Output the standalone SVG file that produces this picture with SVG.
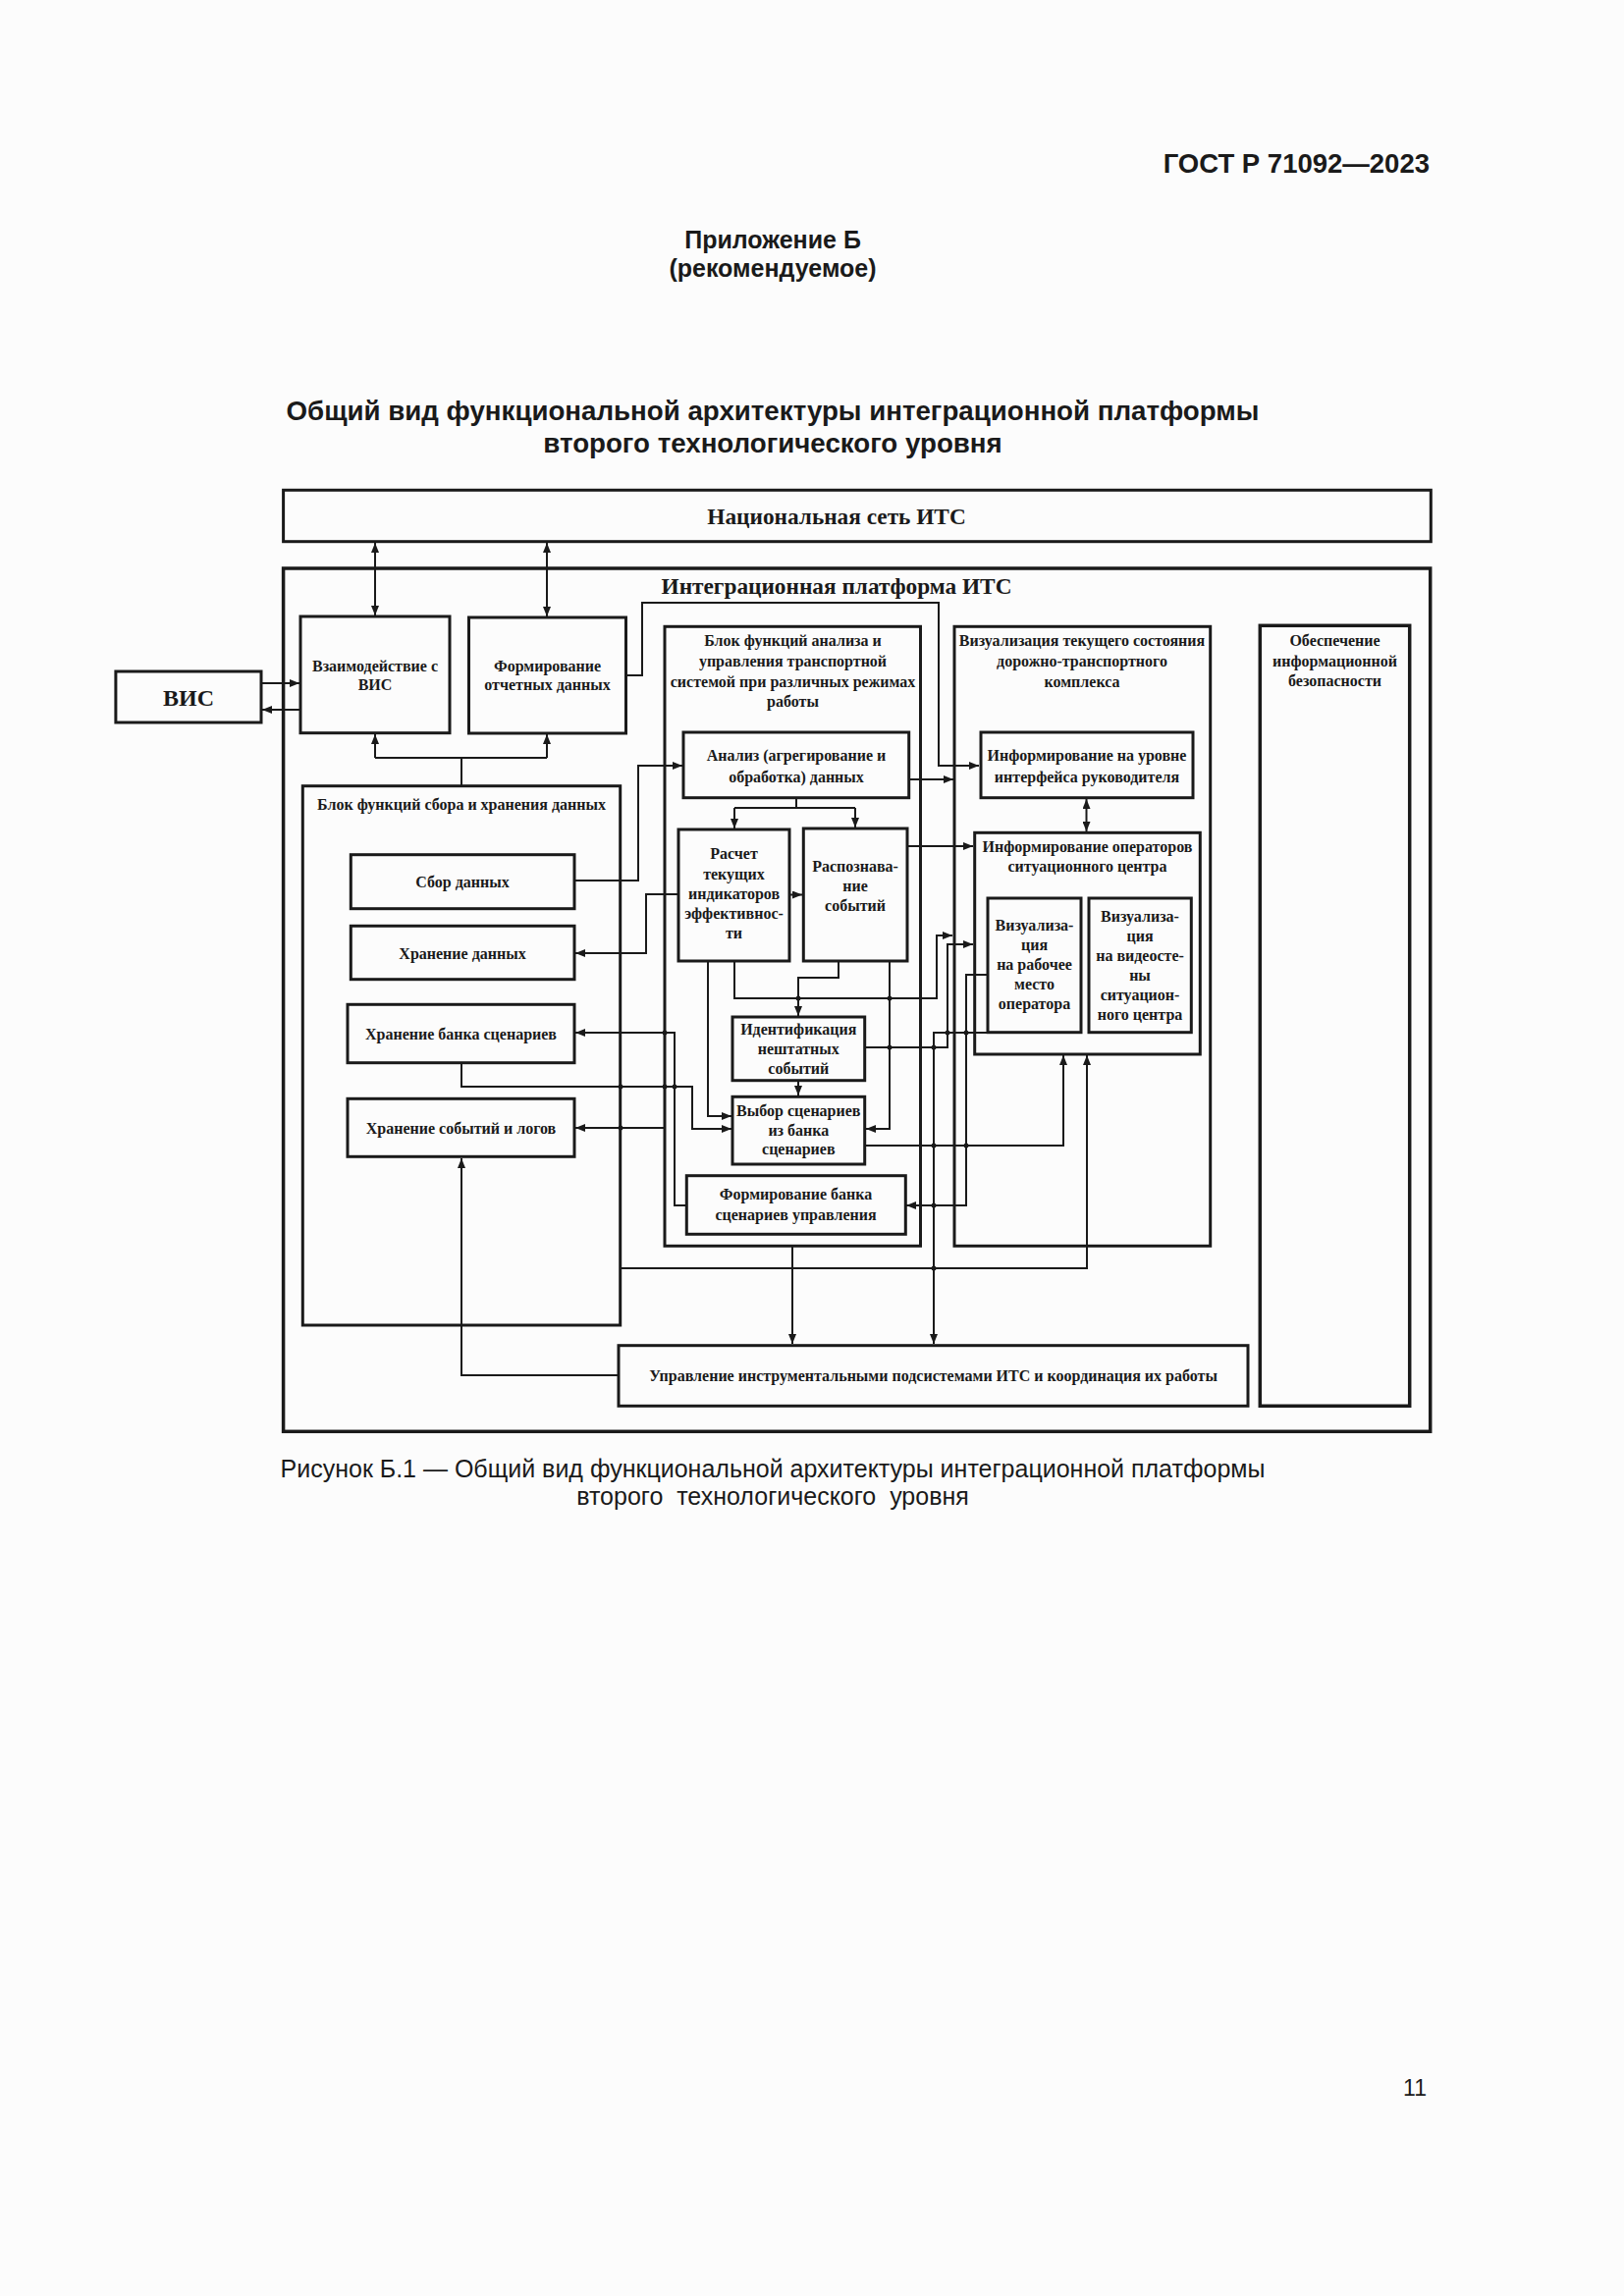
<svg xmlns="http://www.w3.org/2000/svg" width="1654" height="2339" viewBox="0 0 1654 2339">
<defs>
<style>
.box{fill:none;stroke:#1a1a1a;stroke-width:3}
.cont{fill:none;stroke:#1a1a1a;stroke-width:3.5}
.ln{fill:none;stroke:#1a1a1a;stroke-width:2}
.t{font-family:"Liberation Serif","Times New Roman",serif;font-weight:bold;font-size:16px;text-anchor:middle;fill:#1a1a1a}
.big{font-family:"Liberation Serif","Times New Roman",serif;font-weight:bold;font-size:23.3px;text-anchor:middle;fill:#1a1a1a}
.hd{font-family:"Liberation Sans",Arial,sans-serif;fill:#1a1a1a}
.dot{fill:#1a1a1a}
</style>
<marker id="ah" viewBox="0 0 10 8" refX="10" refY="4" markerWidth="10" markerHeight="8" markerUnits="userSpaceOnUse" orient="auto-start-reverse">
<path d="M0,0 L10,4 L0,8 z" fill="#1a1a1a"/>
</marker>
</defs>
<rect x="0" y="0" width="1654" height="2339" fill="#fcfcfc"/>

<g id="header">
<text class="hd" x="1456" y="176" font-size="27.5" font-weight="bold" text-anchor="end">ГОСТ Р 71092—2023</text>
<text class="hd" x="787" y="253" font-size="25" font-weight="bold" text-anchor="middle">Приложение Б</text>
<text class="hd" x="787" y="282" font-size="25" font-weight="bold" text-anchor="middle">(рекомендуемое)</text>
<text class="hd" x="787" y="428" font-size="27.7" font-weight="bold" text-anchor="middle">Общий вид функциональной архитектуры интеграционной платформы</text>
<text class="hd" x="787" y="461" font-size="27.7" font-weight="bold" text-anchor="middle">второго технологического уровня</text>
</g>

<g id="nat">
<rect class="box" x="288.6" y="499.3" width="1168.7" height="52.4"/>
<text class="big" x="852" y="534">Национальная сеть ИТС</text>
</g>

<g id="platform">
<rect class="cont" x="288.6" y="579" width="1168.1" height="879.3"/>
<text class="big" x="852" y="605">Интеграционная платформа ИТС</text>
</g>

<g id="vis">
<rect class="box" x="117.9" y="684" width="148.1" height="52"/>
<text class="t" x="192" y="719" style="font-size:24px">ВИС</text>
</g>

<g id="vzaim">
<rect class="box" x="306" y="628" width="152" height="118.7"/>
<text class="t" x="382" y="684">Взаимодействие с</text>
<text class="t" x="382" y="703">ВИС</text>
</g>

<g id="form-otch">
<rect class="box" x="477.5" y="629" width="160" height="118"/>
<text class="t" x="557.5" y="684">Формирование</text>
<text class="t" x="557.5" y="703">отчетных данных</text>
</g>

<g id="blok-sbor">
<rect class="box" x="308.3" y="800.7" width="323.4" height="549.3"/>
<text class="t" x="470" y="825">Блок функций сбора и хранения данных</text>
</g>

<g id="sbor">
<rect class="box" x="357.3" y="870.7" width="227.7" height="55"/>
<text class="t" x="471" y="904">Сбор данных</text>
</g>

<g id="hran-dan">
<rect class="box" x="357.3" y="943.3" width="227.7" height="54.4"/>
<text class="t" x="471" y="977">Хранение данных</text>
</g>

<g id="hran-bank">
<rect class="box" x="354" y="1023.3" width="231" height="59.4"/>
<text class="t" x="469.5" y="1059">Хранение банка сценариев</text>
</g>

<g id="hran-sob">
<rect class="box" x="354" y="1119.3" width="231" height="59"/>
<text class="t" x="469.5" y="1155">Хранение событий и логов</text>
</g>

<g id="blok-analiz">
<rect class="box" x="677" y="638.3" width="260.5" height="631"/>
<text class="t" x="807.5" y="658">Блок функций анализа и</text>
<text class="t" x="807.5" y="679">управления транспортной</text>
<text class="t" x="807.5" y="700">системой при различных режимах</text>
<text class="t" x="807.5" y="720">работы</text>
</g>

<g id="analiz">
<rect class="box" x="696" y="746" width="229.7" height="66.7"/>
<text class="t" x="811" y="775">Анализ (агрегирование и</text>
<text class="t" x="811" y="796.7">обработка) данных</text>
</g>

<g id="raschet">
<rect class="box" x="691" y="845" width="113" height="134"/>
<text class="t" x="747.5" y="875">Расчет</text>
<text class="t" x="747.5" y="895.7">текущих</text>
<text class="t" x="747.5" y="915.7">индикаторов</text>
<text class="t" x="747.5" y="935.7">эффективнос-</text>
<text class="t" x="747.5" y="955.7">ти</text>
</g>

<g id="raspozn">
<rect class="box" x="818.3" y="844" width="105.7" height="135"/>
<text class="t" x="871" y="887.7">Распознава-</text>
<text class="t" x="871" y="907.7">ние</text>
<text class="t" x="871" y="927.7">событий</text>
</g>

<g id="ident">
<rect class="box" x="746" y="1036" width="134.7" height="64.7"/>
<text class="t" x="813.3" y="1054.3">Идентификация</text>
<text class="t" x="813.3" y="1074.3">нештатных</text>
<text class="t" x="813.3" y="1094.3">событий</text>
</g>

<g id="vybor">
<rect class="box" x="746" y="1117.3" width="134.7" height="68.7"/>
<text class="t" x="813.3" y="1136.7">Выбор сценариев</text>
<text class="t" x="813.3" y="1156.7">из банка</text>
<text class="t" x="813.3" y="1176">сценариев</text>
</g>

<g id="form-bank">
<rect class="box" x="699.3" y="1197.7" width="223" height="59.6"/>
<text class="t" x="810.5" y="1222.3">Формирование банка</text>
<text class="t" x="810.5" y="1243">сценариев управления</text>
</g>

<g id="vizual">
<rect class="box" x="972" y="638.3" width="260.7" height="631"/>
<text class="t" x="1102" y="658">Визуализация текущего состояния</text>
<text class="t" x="1102" y="679">дорожно-транспортного</text>
<text class="t" x="1102" y="700">комплекса</text>
</g>

<g id="inf-ruk">
<rect class="box" x="999" y="746" width="216" height="66.7"/>
<text class="t" x="1107" y="775">Информирование на уровне</text>
<text class="t" x="1107" y="796.7">интерфейса руководителя</text>
</g>

<g id="inf-oper">
<rect class="box" x="992.7" y="848.3" width="229.6" height="225.7"/>
<text class="t" x="1107.5" y="867.7">Информирование операторов</text>
<text class="t" x="1107.5" y="888.3">ситуационного центра</text>
</g>

<g id="viz-rm">
<rect class="box" x="1006" y="915" width="95" height="136.7"/>
<text class="t" x="1053.5" y="948.3">Визуализа-</text>
<text class="t" x="1053.5" y="968.3">ция</text>
<text class="t" x="1053.5" y="988.3">на рабочее</text>
<text class="t" x="1053.5" y="1008.3">место</text>
<text class="t" x="1053.5" y="1028.3">оператора</text>
</g>

<g id="viz-vs">
<rect class="box" x="1109" y="915" width="104.3" height="136.7"/>
<text class="t" x="1161" y="939.3">Визуализа-</text>
<text class="t" x="1161" y="959.3">ция</text>
<text class="t" x="1161" y="979.3">на видеосте-</text>
<text class="t" x="1161" y="999.3">ны</text>
<text class="t" x="1161" y="1019.3">ситуацион-</text>
<text class="t" x="1161" y="1039.3">ного центра</text>
</g>

<g id="infosec">
<rect class="cont" x="1283.3" y="637.3" width="152.4" height="795"/>
<text class="t" x="1359.5" y="658.3">Обеспечение</text>
<text class="t" x="1359.5" y="679.3">информационной</text>
<text class="t" x="1359.5" y="699">безопасности</text>
</g>

<g id="upravl">
<rect class="box" x="630" y="1370.7" width="641" height="61.6"/>
<text class="t" x="950.5" y="1407.3">Управление инструментальными подсистемами ИТС и координация их работы</text>
</g>

<g id="connectors">
<path class="ln" d="M382,553 V627" marker-start="url(#ah)" marker-end="url(#ah)"/>
<path class="ln" d="M557,553 V628" marker-start="url(#ah)" marker-end="url(#ah)"/>
<path class="ln" d="M266,696 H305" marker-end="url(#ah)"/>
<path class="ln" d="M306,723 H267" marker-end="url(#ah)"/>
<path class="ln" d="M470,800 V772 M382,772 H557"/>
<path class="ln" d="M382,772 V748" marker-end="url(#ah)"/>
<path class="ln" d="M557,772 V748" marker-end="url(#ah)"/>
<path class="ln" d="M638,688 H654 V614 H956 V780 H997" marker-end="url(#ah)"/>
<path class="ln" d="M585,897 H650 V780 H695" marker-end="url(#ah)"/>
<path class="ln" d="M691,911 H658 V971 H586" marker-end="url(#ah)"/>
<path class="ln" d="M811,813 V823 M748,823 H871"/>
<path class="ln" d="M748,823 V844" marker-end="url(#ah)"/>
<path class="ln" d="M871,823 V843" marker-end="url(#ah)"/>
<path class="ln" d="M926,794 H971" marker-end="url(#ah)"/>
<path class="ln" d="M804,911.5 H817" marker-end="url(#ah)"/>
<path class="ln" d="M924,862 H991" marker-end="url(#ah)"/>
<path class="ln" d="M1106.5,814 V847" marker-start="url(#ah)" marker-end="url(#ah)"/>
<path class="ln" d="M748,979 V1017 H954 V953 H970" marker-end="url(#ah)"/>
<path class="ln" d="M854,979 V996 H813 V1035" marker-end="url(#ah)"/>
<path class="ln" d="M906,979 V1150 H882" marker-end="url(#ah)"/>
<path class="ln" d="M721,979 V1137 H745" marker-end="url(#ah)"/>
<path class="ln" d="M813,1101 V1116" marker-end="url(#ah)"/>
<path class="ln" d="M881,1067 H965 V962 H991" marker-end="url(#ah)"/>
<path class="ln" d="M470,1083 V1107 H705 V1150 H745" marker-end="url(#ah)"/>
<path class="ln" d="M699,1228 H687 V1052 H586" marker-end="url(#ah)"/>
<path class="ln" d="M677,1149 H586" marker-end="url(#ah)"/>
<path class="ln" d="M1006,993 H984 V1228 H923" marker-end="url(#ah)"/>
<path class="ln" d="M881,1167 H1083 V1075" marker-end="url(#ah)"/>
<path class="ln" d="M1006,1052 H951 V1369" marker-end="url(#ah)"/>
<path class="ln" d="M632,1292 H1107 V1075" marker-end="url(#ah)"/>
<path class="ln" d="M807,1270 V1369" marker-end="url(#ah)"/>
<path class="ln" d="M630,1401 H470 V1180" marker-end="url(#ah)"/>
<circle class="dot" cx="632" cy="1107" r="2.5"/>
<circle class="dot" cx="677" cy="1107" r="2.5"/>
<circle class="dot" cx="687" cy="1107" r="2.5"/>
<circle class="dot" cx="632" cy="1149" r="2.5"/>
<circle class="dot" cx="677" cy="1052" r="2.5"/>
<circle class="dot" cx="813" cy="1017" r="2.5"/>
<circle class="dot" cx="906" cy="1017" r="2.5"/>
<circle class="dot" cx="906" cy="1067" r="2.5"/>
<circle class="dot" cx="951" cy="1067" r="2.5"/>
<circle class="dot" cx="965" cy="1052" r="2.5"/>
<circle class="dot" cx="984" cy="1052" r="2.5"/>
<circle class="dot" cx="951" cy="1167" r="2.5"/>
<circle class="dot" cx="984" cy="1167" r="2.5"/>
<circle class="dot" cx="951" cy="1228" r="2.5"/>
<circle class="dot" cx="951" cy="1292" r="2.5"/>
</g>

<g id="caption">
<text class="hd" x="787" y="1505" font-size="25" text-anchor="middle">Рисунок Б.1 — Общий вид функциональной архитектуры интеграционной платформы</text>
<text class="hd" x="787" y="1533" font-size="25" text-anchor="middle" xml:space="preserve">второго  технологического  уровня</text>
<text class="hd" x="1453" y="2135" font-size="23" text-anchor="end">11</text>
</g>
</svg>
